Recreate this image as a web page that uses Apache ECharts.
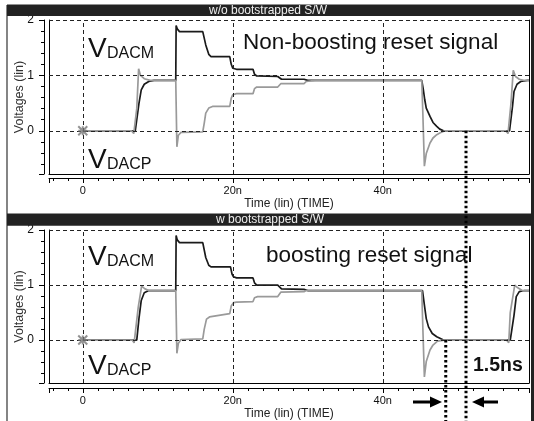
<!DOCTYPE html>
<html>
<head>
<meta charset="utf-8">
<script src="https://cdn.jsdelivr.net/npm/echarts@6/dist/echarts.min.js"></script>
<style>
  html, body { margin: 0; padding: 0; background: #fff; }
  #main { width: 534px; height: 421px; }
</style>
</head>
<body>
<div id="main"></div>
<script>
// time in ns, voltage in V
const dacmWo = [
  [0, 0], [7.0, 0], [7.2, 0.03], [7.5, 0.5], [7.8, 0.74], [8.2, 0.84], [8.8, 0.89], [9.5, 0.91],
  [12.4, 0.91], [12.45, 1.9], [12.6, 1.84], [12.9, 1.79], [16.0, 1.79], [16.4, 1.55], [16.8, 1.38], [17.1, 1.34],
  [19.6, 1.34], [19.8, 1.2], [20.0, 1.13], [20.5, 1.11], [22.7, 1.11], [22.9, 1.02], [23.2, 0.99],
  [26.0, 0.98], [26.5, 0.93], [29.5, 0.93], [30.0, 0.91],
  [45.2, 0.91], [45.4, 0.75], [45.6, 0.56], [45.8, 0.41], [46.3, 0.26], [46.7, 0.15], [47.2, 0.08], [47.6, 0.03], [48.1, 0],
  [56.9, 0], [57.3, 0.44], [57.5, 0.71], [57.9, 0.84], [58.4, 0.89], [59.3, 0.91], [59.5, 0.91]
];
const dacpWo = [
  [0, 0], [6.5, 0], [6.8, -0.05], [7.05, -0.04], [7.2, 0.4], [7.45, 1.12], [7.7, 1.0], [8.2, 0.94], [9.0, 0.91],
  [12.4, 0.91], [12.55, -0.29], [12.75, -0.08], [13.1, -0.03], [16.0, -0.02], [16.2, 0.14], [16.4, 0.32], [16.8, 0.41], [17.3, 0.44],
  [19.6, 0.44], [19.8, 0.59], [20.0, 0.65], [20.5, 0.67], [22.7, 0.67], [22.9, 0.76], [23.2, 0.79],
  [26.0, 0.79], [26.4, 0.85], [29.5, 0.85], [29.8, 0.89], [31.0, 0.91],
  [45.2, 0.91], [45.35, 0.3], [45.55, -0.64], [45.8, -0.41], [46.3, -0.22], [46.7, -0.13], [47.2, -0.07], [47.6, -0.04], [48.3, 0],
  [56.4, 0], [56.7, -0.05], [56.9, -0.04], [57.1, 0.5], [57.4, 1.09], [57.7, 0.98], [58.2, 0.93], [58.8, 0.91], [59.5, 0.91]
];
const dacmW = [
  [0, 0], [7.2, 0], [7.5, 0.4], [7.8, 0.72], [8.2, 0.86], [8.8, 0.9],
  [12.4, 0.9], [12.45, 1.9], [12.6, 1.82], [12.9, 1.77], [16.0, 1.77], [16.4, 1.5], [16.8, 1.36], [17.1, 1.33],
  [19.7, 1.33], [19.9, 1.2], [20.1, 1.15], [20.5, 1.13], [22.7, 1.13], [22.9, 1.04], [23.2, 1.0],
  [26.0, 1.0], [26.5, 0.93], [29.5, 0.92], [30.0, 0.9],
  [45.3, 0.9], [45.55, 0.64], [45.8, 0.39], [46.1, 0.24], [46.6, 0.12], [47.2, 0.06], [48.1, 0],
  [57.0, 0], [57.5, 0.45], [57.8, 0.79], [58.2, 0.88], [58.9, 0.9], [59.5, 0.9]
];
const dacpW = [
  [0, 0], [6.6, 0], [6.85, -0.05], [7.0, -0.03], [7.4, 0.6], [7.85, 0.98], [8.0, 1.0], [8.3, 0.93], [8.8, 0.9],
  [12.4, 0.9], [12.55, -0.24], [12.75, -0.06], [13.1, 0.01], [16.0, 0.02], [16.2, 0.2], [16.5, 0.38], [16.9, 0.42], [19.6, 0.48],
  [19.8, 0.62], [20.1, 0.68], [20.5, 0.69], [22.7, 0.7], [22.9, 0.77], [23.3, 0.79],
  [26.0, 0.79], [26.4, 0.87], [29.5, 0.88], [29.8, 0.9],
  [45.2, 0.9], [45.35, 0.2], [45.55, -0.67], [45.8, -0.39], [46.3, -0.18], [46.7, -0.09], [47.3, -0.02], [48.2, 0],
  [56.5, 0], [56.8, -0.05], [57.0, 0.5], [57.6, 1.0], [57.9, 0.96], [58.6, 0.9], [59.5, 0.9]
];
const startPoint = [0, 0];
const xTicks = [0, 20, 40];
const yTicks = [0, 1, 2];
const panelTitles = ['w/o bootstrapped S/W', 'w bootstrapped S/W'];
const settleW = 48.4;   // bottom dotted marker (ns)
const settleWo = 51.1;  // top dotted marker (ns)

const FONT = 'Liberation Sans, Arial, sans-serif';
const chart = echarts.init(document.getElementById('main'));

const gridBoxes = [
  { left: 49, top: 20, width: 480, height: 154 },
  { left: 49, top: 230, width: 480, height: 153 }
];

function xAxes(g, off) {
  const base = { gridIndex: g, type: 'value', min: -4.5, max: 59.5, position: 'bottom', splitLine: { show: false } };
  return [
    Object.assign({}, base, {
      splitNumber: 3, offset: off,
      axisLine: { show: true, onZero: false, lineStyle: { color: '#000', width: 1 } },
      axisTick: { show: true, length: 5, lineStyle: { color: '#000' } },
      minorTick: { show: true, splitNumber: 10, length: 3, lineStyle: { color: '#000' } },
      axisLabel: {
        margin: 7, fontSize: 11, color: '#111', fontFamily: FONT,
        formatter: v => xTicks.includes(v) ? (v === 0 ? '0' : v + 'n') : ''
      },
      name: 'Time (lin) (TIME)', nameLocation: 'middle', nameGap: 20, nameMoveOverlap: false,
      nameTextStyle: { fontSize: 12, color: '#222', fontFamily: FONT }
    }),
    Object.assign({}, base, {
      offset: 0,
      axisLine: { show: true, onZero: false, lineStyle: { color: '#000', width: 1 } },
      axisTick: { show: false }, axisLabel: { show: false }
    })
  ];
}

function yAxes(g) {
  const base = { gridIndex: g, type: 'value', min: -0.78, max: 2, splitLine: { show: false } };
  const frame = { axisLine: { show: true, onZero: false, lineStyle: { color: '#000', width: 1 } }, axisTick: { show: false }, axisLabel: { show: false } };
  return [
    Object.assign({}, base, {
      splitNumber: 3, position: 'left', offset: 5,
      axisLine: { show: true, onZero: false, lineStyle: { color: '#000', width: 1 } },
      axisTick: { show: true, length: 5, lineStyle: { color: '#000' } },
      minorTick: { show: true, splitNumber: 5, length: 3, lineStyle: { color: '#000' } },
      axisLabel: {
        margin: 10, fontSize: 12, color: '#111', fontFamily: FONT,
        formatter: v => yTicks.includes(v) ? String(v) : ''
      },
      name: 'Voltages (lin)', nameLocation: 'middle', nameGap: 18, nameMoveOverlap: false,
      nameTextStyle: { fontSize: 12.5, color: '#333', fontFamily: FONT }
    }),
    Object.assign({}, base, frame, { position: 'left', offset: 0 }),
    Object.assign({}, base, frame, { position: 'right', offset: 0 })
  ];
}

const starSymbol = 'path://M0 0L10 10M10 0L0 10M5 0L5 10M0 5L10 5';

function panelSeries(xi, yi, dacm, dacp) {
  return [
    {
      type: 'line', xAxisIndex: xi, yAxisIndex: yi, data: [], silent: true, z: 1,
      markLine: {
        silent: true, symbol: ['none', 'none'], label: { show: false }, animation: false,
        lineStyle: { color: '#222', type: [4, 3], width: 1 },
        emphasis: { disabled: true },
        data: yTicks.map(v => ({ yAxis: v })).concat(xTicks.map(v => ({ xAxis: v })))
      }
    },
    {
      name: 'VDACM', type: 'line', xAxisIndex: xi, yAxisIndex: yi, data: dacm,
      showSymbol: false, z: 3, emphasis: { disabled: true },
      lineStyle: { color: '#1a1a1a', width: 1.7 }
    },
    {
      name: 'VDACP', type: 'line', xAxisIndex: xi, yAxisIndex: yi, data: dacp,
      showSymbol: false, z: 4, emphasis: { disabled: true },
      lineStyle: { color: '#9a9a9a', width: 1.7 }
    },
    {
      type: 'scatter', xAxisIndex: xi, yAxisIndex: yi, data: [startPoint], z: 5,
      symbol: starSymbol, symbolSize: 9, silent: true,
      itemStyle: { color: 'none', borderColor: '#777', borderWidth: 2 }
    }
  ];
}

chart.setOption({
  animation: false,
  backgroundColor: '#fff',
  grid: gridBoxes.map(b => Object.assign({ show: false, outerBoundsMode: 'none' }, b)),
  xAxis: xAxes(0, 4).concat(xAxes(1, 5)),
  yAxis: yAxes(0).concat(yAxes(1)),
  series: panelSeries(0, 0, dacmWo, dacpWo).concat(panelSeries(2, 3, dacmW, dacpW))
});

// annotations
const toPx = (g, t, v) => chart.convertToPixel({ xAxisIndex: g * 2, yAxisIndex: g * 3 }, [t, v]);
const pW = toPx(1, settleW, 0);
const pWo = toPx(0, settleWo, 0);

function txt(x, y, text, size, extra) {
  return {
    type: 'text', x: x, y: y, z: 100, silent: true,
    style: Object.assign({ text: text, fill: '#111', fontSize: size, fontFamily: FONT, align: 'left', verticalAlign: 'middle' }, extra || {})
  };
}
function vLabel(x, y, sub) {
  return [txt(x, y, 'V', 28), txt(x + 19, y + 5, sub, 16)];
}

const graphics = [
  // window frame
  { type: 'line', z: 90, shape: { x1: 7, y1: 5, x2: 7, y2: 421 }, style: { stroke: '#333', lineWidth: 1.2 } },
  { type: 'rect', z: 90, shape: { x: 531, y: 5, width: 3, height: 416 }, style: { fill: '#222' } },
  // title bars
  { type: 'rect', z: 90, shape: { x: 7, y: 4.5, width: 527, height: 11.5 }, style: { fill: '#222' } },
  { type: 'rect', z: 90, shape: { x: 7, y: 213.5, width: 527, height: 12.2 }, style: { fill: '#222' } },
  txt(268, 10.5, panelTitles[0], 12, { fill: '#eee', align: 'center' }),
  txt(270, 220, panelTitles[1], 12, { fill: '#eee', align: 'center' }),
  // in-plot labels
  ...vLabel(88, 49, 'DACM'),
  ...vLabel(88, 160, 'DACP'),
  ...vLabel(88, 257, 'DACM'),
  ...vLabel(88, 366, 'DACP'),
  txt(243, 43, 'Non-boosting reset signal', 22.5),
  txt(266, 256, 'boosting reset signal', 22.5),
  txt(473, 366, '1.5ns', 19.5, { fontWeight: 'bold' }),
  // dotted settling markers
  { type: 'line', z: 95, shape: { x1: pW[0], y1: pW[1], x2: pW[0], y2: 421 }, style: { stroke: '#000', lineWidth: 3, lineDash: [2.5, 2.5] } },
  { type: 'line', z: 95, shape: { x1: pWo[0], y1: pWo[1], x2: pWo[0], y2: 421 }, style: { stroke: '#000', lineWidth: 3, lineDash: [2.5, 2.5] } },
  // arrows
  { type: 'line', z: 100, shape: { x1: 413, y1: 402, x2: 432, y2: 402 }, style: { stroke: '#000', lineWidth: 3 } },
  { type: 'polygon', z: 100, shape: { points: [[430, 396.5], [442, 402], [430, 407.5]] }, style: { fill: '#000' } },
  { type: 'line', z: 100, shape: { x1: 482, y1: 402, x2: 498, y2: 402 }, style: { stroke: '#000', lineWidth: 3 } },
  { type: 'polygon', z: 100, shape: { points: [[484, 396.5], [472, 402], [484, 407.5]] }, style: { fill: '#000' } }
];

chart.setOption({ graphic: graphics });
</script>
</body>
</html>
